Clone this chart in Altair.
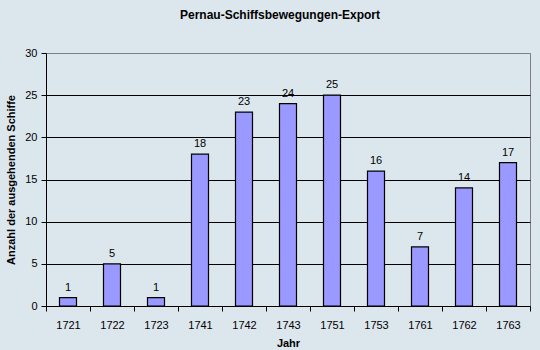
import altair as alt
import pandas as pd

years = ["1721", "1722", "1723", "1741", "1742", "1743", "1751", "1753", "1761", "1762", "1763"]
ships = [1, 5, 1, 18, 23, 24, 25, 16, 7, 14, 17]

df = pd.DataFrame({"Jahr": years, "Anzahl": ships})
FONT = "Liberation Sans"

x = alt.X("Jahr:N", sort=years, title="Jahr",
          scale=alt.Scale(paddingInner=0, paddingOuter=0),
          axis=alt.Axis(labelAngle=0, tickBand="extent", domainColor="black",
                        tickColor="black", tickSize=5, labelPadding=8,
                        labelFontSize=11, labelColor="black", titleFontSize=11,
                        titleFontWeight="bold", titlePadding=7, labelFont=FONT,
                        titleFont=FONT, titleColor="black"))

y = alt.Y("Anzahl:Q", title="Anzahl der ausgehenden Schiffe",
          scale=alt.Scale(domain=[0, 30], nice=False),
          axis=alt.Axis(values=[0, 5, 10, 15, 20, 25, 30], grid=True,
                        gridColor=alt.expr("datum.value == 30 ? '#808080' : 'black'"),
                        domainColor="black", tickColor="black", tickSize=5,
                        labelFontSize=11, labelColor="black", labelPadding=4,
                        titleFontSize=11, titleFontWeight="bold", titlePadding=8,
                        labelFont=FONT, titleFont=FONT, titleColor="black"))

bars = alt.Chart(df).mark_bar(size=17, color="#9999ff", stroke="black", strokeWidth=1.2).encode(x=x, y=y)
labels = alt.Chart(df).mark_text(dy=-10, fontSize=11, font=FONT, color="black").encode(
    x=alt.X("Jahr:N", sort=years), y="Anzahl:Q", text="Anzahl:Q")

chart = (bars + labels).properties(
    width=484, height=253, background="#dce6ed",
    autosize=alt.AutoSizeParams(type="none"),
    padding={"left": 46, "top": 53, "right": 10, "bottom": 44},
    title=alt.TitleParams("Pernau-Schiffsbewegungen-Export", font=FONT, fontSize=12,
                          fontWeight="bold", color="black", offset=25, dx=-8, anchor="middle"),
).configure_view(stroke="#808080", fill=None)

chart.save("out.html", embed_options={"renderer": "svg", "actions": False})
